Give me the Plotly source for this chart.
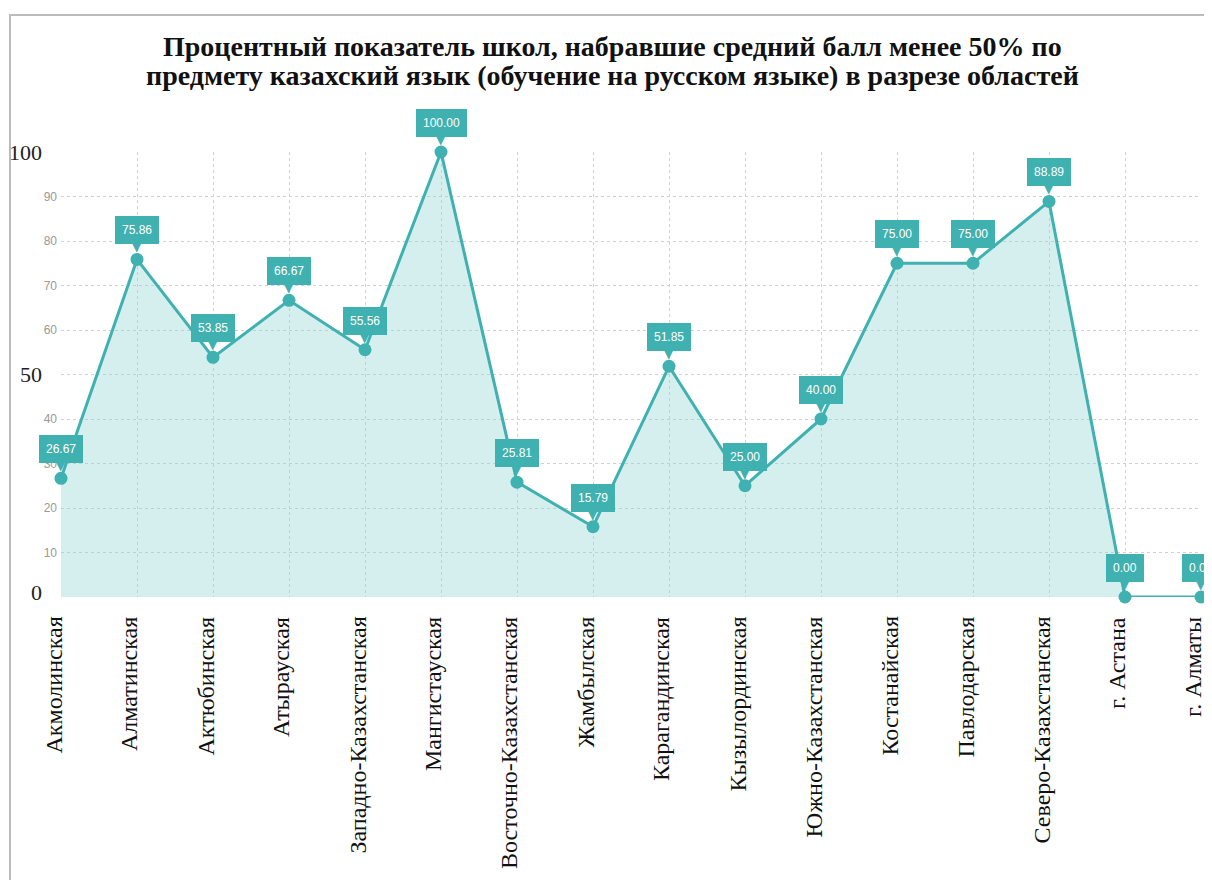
import plotly.graph_objects as go

title_lines = ["Процентный показатель школ, набравшие средний балл менее 50% по",
               "предмету казахский язык (обучение на русском языке) в разрезе областей"]
regions = ["Акмолинская", "Алматинская", "Актюбинская", "Атырауская",
           "Западно-Казахстанская", "Мангистауская", "Восточно-Казахстанская",
           "Жамбылская", "Карагандинская", "Кызылординская", "Южно-Казахстанская",
           "Костанайская", "Павлодарская", "Северо-Казахстанская", "г. Астана", "г. Алматы"]
values = [26.67, 75.86, 53.85, 66.67, 55.56, 100.00, 25.81, 15.79, 51.85, 25.00,
          40.00, 75.00, 75.00, 88.89, 0.00, 0.00]
small_ticks = [10, 20, 30, 40, 60, 70, 80, 90]
big_ticks = [0, 50, 100]

LINE = "#3fb1b0"
FILL = "rgba(150,215,215,0.4)"

# page body has an 8px margin; compensate so the chart lands where the reference has it
W, H = 1204, 872
L, R, T, B = 53, 11, 144, 283
PW, PH = W - L - R, H - T - B

fig = go.Figure()
fig.add_trace(go.Scatter(
    x=list(range(len(regions))), y=values, mode="lines+markers",
    line=dict(color=LINE, width=3),
    marker=dict(color=LINE, size=13),
    fill="tozeroy", fillcolor=FILL, cliponaxis=False, hoverinfo="skip"))

for i, v in enumerate(values):
    fig.add_annotation(x=i, y=v, text=f"{v:.2f}", showarrow=False, yshift=29,
                       bgcolor=LINE, bordercolor=LINE, borderpad=6,
                       font=dict(family="Arial, Liberation Sans", size=12, color="white"))
    fig.add_annotation(x=i, y=v, text="▼", showarrow=False, yshift=12,
                       font=dict(family="DejaVu Sans", size=12, color=LINE))

# category labels (rotated), drawn as annotations so the last one stays inside the page
for i, name in enumerate(regions):
    fig.add_annotation(x=i, yref="paper", y=0, text=name, showarrow=False,
                       textangle=-90, xanchor="center", yanchor="top",
                       xshift=-8, yshift=-18,
                       font=dict(family="Liberation Serif", size=24, color="#111"))

for t in big_ticks:
    fig.add_annotation(xref="paper", x=-17 / PW, y=t, text=str(t), showarrow=False,
                       xanchor="right", yanchor="middle", yshift=5 if t == 0 else 0,
                       font=dict(family="Liberation Serif", size=22, color="#222"))

for k, line in enumerate(title_lines):
    fig.add_annotation(xref="paper", yref="paper", x=(612 - 8 - L) / PW,
                       y=(597 - [46, 76][k]) / PH, showarrow=False,
                       text="<b>" + line + "</b>", xanchor="center", yanchor="middle",
                       font=dict(family="Liberation Serif", size=28, color="#111"))

fig.update_layout(
    width=W, height=H,
    margin=dict(l=L, r=R, t=T, b=B, autoexpand=False),
    paper_bgcolor="white", plot_bgcolor="white",
    showlegend=False,
    xaxis=dict(range=[0, len(regions) - 1], tickvals=list(range(len(regions))),
               showticklabels=False, showgrid=True, gridcolor="#d0d0d0",
               griddash="dot", gridwidth=1, zeroline=False, showline=False,
               ticks="", automargin=False),
    yaxis=dict(range=[0, 100], tickvals=small_ticks + big_ticks,
               ticktext=[str(t) for t in small_ticks] + ["", "", ""],
               showgrid=True, gridcolor="#d0d0d0", griddash="dot", gridwidth=1,
               zeroline=False, showline=False, ticks="", ticklabelstandoff=3,
               automargin=False,
               tickfont=dict(family="Liberation Sans", size=12, color="#999")),
)

# outer frame (gray border at top and left)
fig.add_shape(type="rect", xref="paper", yref="paper",
              x0=(10 - 8 - L) / PW, x1=1.2, y0=-0.8, y1=(597 - 15) / PH,
              line=dict(color="#bbbbbb", width=2), fillcolor="rgba(0,0,0,0)", layer="below")

fig.write_html("out.html")
